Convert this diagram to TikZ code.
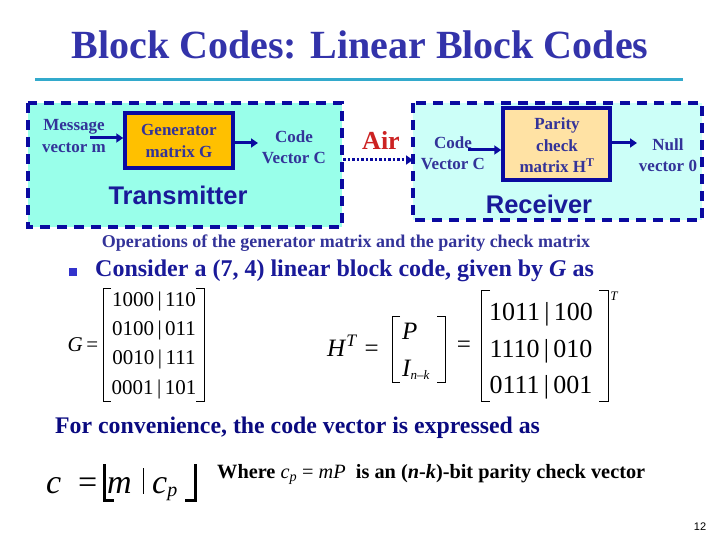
\documentclass[tikz,border=0pt]{standalone}
\usepackage{fontspec}
\setmainfont{Liberation Serif}
\newfontfamily\arialf{Liberation Sans}
\usetikzlibrary{arrows.meta}
\definecolor{titleblue}{HTML}{3333AA}
\definecolor{rulecyan}{HTML}{33AACC}
\definecolor{dashblue}{HTML}{0A0AA0}
\definecolor{txfill}{HTML}{99FFEA}
\definecolor{rxfill}{HTML}{CCFFF8}
\definecolor{genfill}{HTML}{FFC000}
\definecolor{parfill}{HTML}{FFE2A4}
\definecolor{labblue}{HTML}{333399}
\definecolor{airred}{HTML}{CC2222}
\definecolor{bigblue}{HTML}{1A1A99}
\definecolor{navy}{HTML}{0A0A80}
\definecolor{bulletblue}{HTML}{3333CC}
\tikzset{
  region/.style={draw=dashblue, line width=4pt, dash pattern=on 10pt off 7pt},
  blockbox/.style={draw=dashblue, line width=3.5pt},
  lab/.style={text=labblue, font=\fontsize{17}{21.5}\selectfont\bfseries, align=center, inner sep=0pt},
  arr/.style={draw=dashblue, line width=3pt, -{Triangle[length=7pt,width=9pt]}},
  mrow/.style={font=\fontsize{21}{21}\selectfont, inner sep=0pt, anchor=base},
  hrow/.style={font=\fontsize{26}{26}\selectfont, inner sep=0pt, anchor=base},
  brk/.style={draw=black, line width=0.8pt},
  bigsans/.style={text=bigblue, font=\arialf\fontsize{25.5}{25.5}\selectfont\bfseries, inner sep=0pt},
}
\begin{document}
\begin{tikzpicture}[x=1pt,y=-1pt]
\useasboundingbox (0,0) rectangle (720,540);
% title
\node[text=titleblue, font=\fontsize{40}{40}\selectfont\bfseries, inner sep=0pt] (title) at (360,45) {Block Codes: Linear Block Codes};
\coordinate (rl) at (35,80);
\coordinate (rr) at (683,80);
\draw[rulecyan, line width=3pt] (rl) -- (rr);
% regions
\draw[region, fill=txfill] (28,103) rectangle (342,227);
\draw[region, fill=rxfill] (413,103) rectangle (702,220);
% blocks
\node[blockbox, fill=genfill, minimum width=108pt, minimum height=55pt, inner sep=0pt] (gen) at (179,140.5) {};
\node[lab] (gentxt) at (179,141) {Generator\\matrix G};
\node[blockbox, fill=parfill, minimum width=107pt, minimum height=72pt, inner sep=0pt] (par) at (556.5,144) {};
\node[lab] (partxt) at (557,145.5) {Parity\\check\\matrix H\textsuperscript{T}};
% labels
\node[lab] (msg) at (74,136) {Message\\vector m};
\node[lab] (cvt) at (294,147) {Code\\Vector C};
\node[lab] (cvr) at (453,153) {Code\\Vector C};
\node[lab] (null) at (668,155) {Null\\vector 0};
\node[text=airred, font=\fontsize{26}{26}\selectfont\bfseries, inner sep=0pt] (air) at (381,140) {Air};
\node[bigsans] (tx) at (178,195) {Transmitter};
\node[bigsans] (rx) at (539,204) {Receiver};
% arrows
\coordinate (m1) at (90,138);
\draw[arr] (m1) -- (m1 -| gen.west);
\coordinate (c1) at (258,143);
\draw[arr] (gen.east |- c1) -- (c1);
\coordinate (d0) at (343,160);
\coordinate (d1) at (413,160);
\draw[draw=dashblue, line width=3pt, dash pattern=on 2.5pt off 2pt, -{Triangle[length=7pt,width=9pt]}] (d0) -- (d1);
\coordinate (r1) at (468,150);
\draw[arr] (r1) -- (r1 -| par.west);
\coordinate (n1) at (637,143);
\draw[arr] (par.east |- n1) -- (n1);
% operations
\node[text=labblue, font=\fontsize{18}{18}\selectfont\bfseries, inner sep=0pt] (ops) at (346,243) {Operations of the generator matrix and the parity check matrix};
\node[fill=bulletblue, minimum size=8pt, inner sep=0pt] (bul) at (72.5,272) {};
\node[text=bigblue, font=\fontsize{24}{24}\selectfont\bfseries, inner sep=0pt, anchor=west] (cons) at (95,271) {Consider a (7, 4) linear block code, given by \textit{G} as};
% G matrix
\node[font=\fontsize{21}{21}\selectfont, inner sep=0pt] (geq) at (83,345) {\textit{G}\,=};
\node[mrow] (g1) at (154,306) {1000\,|\,110};
\node[mrow] (g2) at (154,335) {0100\,|\,011};
\node[mrow] (g3) at (154,364) {0010\,|\,111};
\node[mrow] (g4) at (154,394) {0001\,|\,101};
\draw[brk] (111,288) -- (103,288) -- (103,401) -- (111,401);
\draw[brk] (196,288) -- (204,288) -- (204,401) -- (196,401);
% H^T
\node[font=\fontsize{25}{25}\selectfont, inner sep=0pt, anchor=base west] (ht) at (327,356) {\textit{H}\textsuperscript{\textit{T}}\;=};
\node[font=\fontsize{25}{25}\selectfont\itshape, inner sep=0pt, anchor=base west] (pp) at (402,339) {P};
\node[font=\fontsize{25}{25}\selectfont\itshape, inner sep=0pt, anchor=base west] (ii) at (402,376) {I\textsubscript{\fontsize{13}{13}\selectfont n\textendash k}};
\draw[brk] (400,316) -- (392,316) -- (392,382) -- (400,382);
\draw[brk] (437,316) -- (445,316) -- (445,382) -- (437,382);
\node[font=\fontsize{25}{25}\selectfont, inner sep=0pt] (heq) at (464,347) {=};
\node[hrow] (h1) at (541,320) {1011\,|\,100};
\node[hrow] (h2) at (541,357) {1110\,|\,010};
\node[hrow] (h3) at (541,393) {0111\,|\,001};
\draw[brk] (490,290) -- (481,290) -- (481,401) -- (490,401);
\draw[brk] (599,290) -- (608,290) -- (608,401) -- (599,401);
\node[font=\fontsize{13}{13}\selectfont\itshape, inner sep=0pt] (tt) at (614,296) {T};
% for convenience
\node[text=navy, font=\fontsize{23.8}{23.8}\selectfont\bfseries, inner sep=0pt, anchor=west] (conv) at (55,428) {For convenience, the code vector is expressed as};
% c = [m | c_p]
\node[font=\fontsize{34}{34}\selectfont\itshape, inner sep=0pt, anchor=base west] (ceq) at (46,493) {c};
\node[font=\fontsize{34}{34}\selectfont, inner sep=0pt, anchor=base west] (eqs) at (78,493) {=};
\node[font=\fontsize{34}{34}\selectfont\itshape, inner sep=0pt, anchor=base west] (cm) at (107,493) {m};
\node[font=\fontsize{34}{34}\selectfont\itshape, inner sep=0pt, anchor=base west] (cc) at (152,493) {c\textsubscript{\fontsize{20}{20}\selectfont p}};
\draw[black, line width=3pt] (104,464) -- (104,500) -- (114,500);
\draw[black, line width=3pt] (195,464) -- (195,500) -- (185,500);
\draw[black, line width=0.7pt] (143,468) -- (143,494);
% where
\node[font=\fontsize{20.3}{20.3}\selectfont, inner sep=0pt, anchor=base west] (where) at (217,478) {\textbf{Where} \textit{c}\textsubscript{\textit{p}} = \textit{mP} \textbf{ is an (\textit{n}-\textit{k})-bit parity check vector}};
% page number
\node[font=\arialf\fontsize{11}{11}\selectfont, inner sep=0pt] (pg) at (700,527) {12};
\end{tikzpicture}
\end{document}
